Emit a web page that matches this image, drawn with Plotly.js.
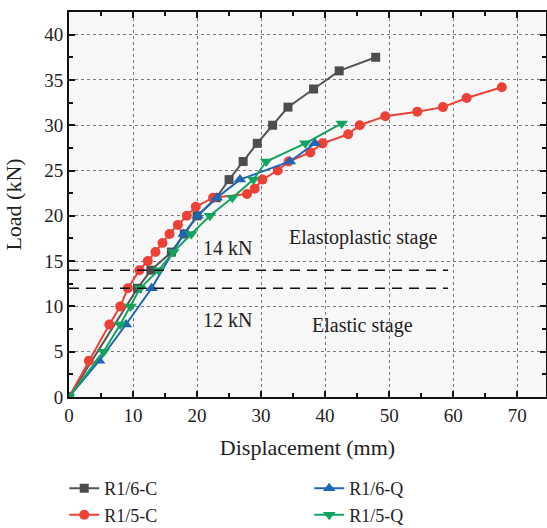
<!DOCTYPE html>
<html>
<head>
<meta charset="utf-8">
<script src="https://cdn.plot.ly/plotly-3.0.1.min.js"></script>
<style>html,body{margin:0;padding:0;background:#fff}#chart{width:547px;height:528px}</style>
</head>
<body>
<div id="chart"></div>
<script>
// R1/6-C
const r16cX = [0, 10.7, 12.8, 16.0, 18.0, 20.0, 23.0, 25.0, 27.2, 29.4, 31.8, 34.2, 38.2, 42.2, 47.9];
const r16cY = [0, 12, 14, 16, 18, 20, 22, 24, 26, 28, 30, 32, 34, 36, 37.5];
// R1/5-C
const r15cX = [0, 3.1, 6.3, 8.0, 9.2, 11.0, 12.3, 13.5, 14.6, 15.7, 17.0, 18.4, 19.8, 22.5, 27.8, 29.0, 30.2, 32.6, 34.3, 37.7, 39.6, 43.6, 45.4, 49.4, 54.4, 58.4, 62.1, 67.6];
const r15cY = [0, 4, 8, 10, 12, 14, 15, 16, 17, 18, 19, 20, 21, 22, 22.4, 23, 24, 25, 26, 27, 28, 29, 30, 31, 31.5, 32, 33, 34.2];
// R1/6-Q
const r16qX = [0, 4.7, 8.9, 12.9, 17.9, 20.1, 23.1, 26.7, 34.5, 38.4];
const r16qY = [0, 4, 8, 12, 18, 20, 22, 24, 26, 28];
// R1/5-Q
const r15qX = [0, 5.4, 8.0, 9.6, 11.1, 14.0, 16.3, 19.1, 22.0, 25.5, 28.8, 30.8, 36.9, 42.6];
const r15qY = [0, 5, 8, 10, 12, 14, 16, 18, 20, 22, 24, 26, 28, 30.2];
// stage boundaries
const stageX = [0, 59.2];
const upperLoad = 14;
const lowerLoad = 12;

const serif = 'Liberation Serif, Times New Roman, serif';
const txt = '#222222';
const cBlack = '#4d4d4d', cRed = '#ee4136', cBlue = '#1f66b4', cGreen = '#12a35e';

const traces = [
  {x: r16cX, y: r16cY, name: 'R1/6-C', legendrank: 1, mode: 'lines+markers',
   line: {color: '#555555', width: 2}, marker: {symbol: 'square', size: 9, color: cBlack}},
  {x: r15cX, y: r15cY, name: 'R1/5-C', legendrank: 3, mode: 'lines+markers',
   line: {color: cRed, width: 2}, marker: {symbol: 'circle', size: 10, color: cRed}},
  {x: r16qX, y: r16qY, name: 'R1/6-Q', legendrank: 2, mode: 'lines+markers',
   line: {color: cBlue, width: 2}, marker: {symbol: 'triangle-up', size: 11, color: cBlue}},
  {x: r15qX, y: r15qY, name: 'R1/5-Q', legendrank: 4, mode: 'lines+markers',
   line: {color: cGreen, width: 2}, marker: {symbol: 'triangle-down', size: 11, color: cGreen}},
  {x: stageX, y: [upperLoad, upperLoad], mode: 'lines', showlegend: false, hoverinfo: 'skip',
   line: {color: '#111', width: 1.6, dash: '10px,7px'}},
  {x: stageX, y: [lowerLoad, lowerLoad], mode: 'lines', showlegend: false, hoverinfo: 'skip',
   line: {color: '#111', width: 1.6, dash: '10px,7px'}}
];

const axisCommon = {
  showline: true, linecolor: '#111', linewidth: 2, mirror: 'allticks',
  ticks: 'inside', ticklen: 6, tickwidth: 2, tickcolor: '#111',
  showgrid: true, gridcolor: '#7a7a7a', gridwidth: 1, griddash: 'dot',
  zeroline: false, tickfont: {family: serif, size: 19, color: txt},
  minor: {ticks: 'inside', ticklen: 4, tickwidth: 2, tickcolor: '#111', showgrid: false}
};

const layout = {
  width: 547, height: 528,
  margin: {l: 69, r: 1, t: 12, b: 131, autoexpand: false},
  paper_bgcolor: '#ffffff', plot_bgcolor: '#f8f8f8',
  font: {family: serif, size: 19, color: txt},
  xaxis: Object.assign({}, axisCommon, {
    range: [0, 74.5], dtick: 10, tick0: 0,
    minor: Object.assign({}, axisCommon.minor, {dtick: 5}),
    title: {text: 'Displacement (mm)', font: {family: serif, size: 22, color: txt}, standoff: 15}
  }),
  yaxis: Object.assign({}, axisCommon, {
    range: [0, 42.5], dtick: 5, tick0: 0,
    minor: Object.assign({}, axisCommon.minor, {dtick: 2.5}),
    title: {text: 'Load (kN)', font: {family: serif, size: 22, color: txt}, standoff: 17}
  }),
  legend: {
    orientation: 'h', x: -0.01, xanchor: 'left', y: -0.19, yanchor: 'top',
    font: {family: serif, size: 18, color: txt}, entrywidth: 200,
    bgcolor: 'rgba(0,0,0,0)', traceorder: 'normal', tracegroupgap: 0
  },
  annotations: [
    {x: 24.7, y: 16.4, text: '14 kN', showarrow: false, font: {family: serif, size: 20, color: txt}},
    {x: 24.7, y: 8.5, text: '12 kN', showarrow: false, font: {family: serif, size: 20, color: txt}},
    {x: 45.9, y: 17.6, text: 'Elastoplastic stage', showarrow: false, font: {family: serif, size: 20, color: txt}},
    {x: 45.9, y: 7.9, text: 'Elastic stage', showarrow: false, font: {family: serif, size: 20, color: txt}}
  ],
  showlegend: true
};

Plotly.newPlot('chart', traces, layout, {displayModeBar: false, staticPlot: true});
</script>
</body>
</html>
